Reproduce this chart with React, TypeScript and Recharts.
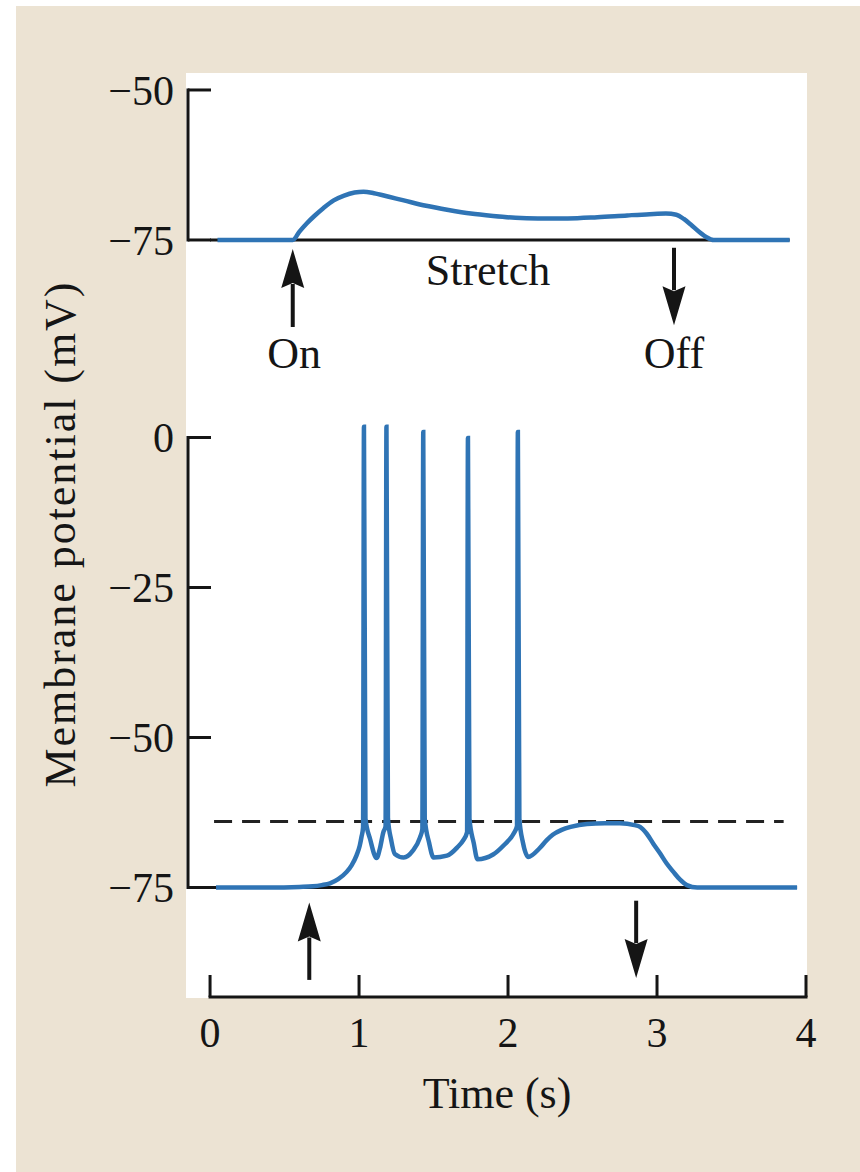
import {
  Line,
  LineChart,
  ReferenceArea,
  ReferenceDot,
  ReferenceLine,
  XAxis,
  YAxis,
} from "recharts";

const TIME_TICKS = [0, 1, 2, 3, 4];
const RECEPTOR_TICKS = [-50, -75];
const AFFERENT_TICKS = [0, -25, -50, -75];

// receptor potential in the stretched ending (upper trace)
const RECEPTOR_TIME = [
  0.05, 0.3, 0.555, 0.6, 0.65, 0.7, 0.76, 0.83, 0.9, 0.97, 1.03, 1.1, 1.2,
  1.3, 1.45, 1.6, 1.75, 1.9, 2.05, 2.2, 2.4, 2.6, 2.8, 2.95, 3.06, 3.13, 3.18,
  3.23, 3.28, 3.33, 3.38, 3.5, 3.89,
];
const RECEPTOR_MV = [
  -75, -75, -75, -73.6, -72.2, -71.0, -69.7, -68.4, -67.6, -67.1, -66.95,
  -67.2, -67.8, -68.4, -69.3, -70.0, -70.6, -71.0, -71.3, -71.4, -71.4, -71.2,
  -70.9, -70.7, -70.6, -70.8, -71.5, -72.5, -73.6, -74.5, -75, -75, -75,
];

// afferent fibre, action potentials (lower trace)
const AFFERENT_TIME = [
  0.04, 0.4, 0.6, 0.69, 0.75, 0.805, 0.86, 0.917, 0.95, 0.984, 1.005, 1.017,
  1.027, 1.033, 1.043, 1.075, 1.118, 1.14, 1.163, 1.178, 1.184, 1.194, 1.215,
  1.24, 1.3, 1.36, 1.41, 1.425, 1.431, 1.441, 1.47, 1.5, 1.59, 1.66, 1.7,
  1.725, 1.731, 1.741, 1.77, 1.795, 1.9, 1.97, 2.04, 2.06, 2.066, 2.076, 2.1,
  2.136, 2.21, 2.26, 2.3, 2.36, 2.42, 2.53, 2.65, 2.75, 2.85, 2.886, 2.93,
  2.975, 3.02, 3.065, 3.11, 3.155, 3.2, 3.27, 3.94,
];
const AFFERENT_MV = [
  -75, -75, -74.9, -74.8, -74.6, -74.3, -73.6, -72.4, -71.3, -69.6, -68.0,
  -66.5, -65.0, 1.8, -63.5, -67.0, -70.1, -68.5, -65.8, -64.8, 1.8, -63.5,
  -67.0, -69.4, -70.0, -68.9, -66.6, -65.3, 0.9, -63.5, -67.5, -70.0, -69.7,
  -68.3, -67.1, -65.8, -0.1, -63.5, -67.6, -70.3, -69.5, -68.0, -65.9, -64.8,
  0.9, -63.5, -67.5, -69.9, -68.5, -67.1, -66.2, -65.4, -64.9, -64.4, -64.3,
  -64.3, -64.6, -64.9, -66.0, -67.7, -69.3, -71.0, -72.4, -73.7, -74.6, -75,
  -75,
];

const REST_MV = -75;
const THRESHOLD_MV = -64;
const THRESHOLD_SPAN = [0.027, 3.85];

const RECEPTOR_ARROWS = [
  { t: 0.555, from: -89.5, to: -76.5 },
  { t: 3.114, from: -76.3, to: -89.2 },
];
const AFFERENT_ARROWS = [
  { t: 0.666, from: -90.4, to: -77.5 },
  { t: 2.86, from: -77.2, to: -90.1 },
];
const RECEPTOR_NOTES = [
  { t: 1.866, mv: -82.5, text: "Stretch" },
  { t: 0.564, mv: -96.3, text: "On" },
  { t: 3.114, mv: -96.3, text: "Off" },
];

const receptorData = RECEPTOR_TIME.map((t, i) => ({ t, mv: RECEPTOR_MV[i] }));
const afferentData = AFFERENT_TIME.map((t, i) => ({ t, mv: AFFERENT_MV[i] }));

const W = 860;
const H = 1172;
const MARGIN = { top: 73, right: 54, bottom: 175, left: 188 };
const T_DOMAIN: [number, number] = [-0.148, 4];
const RECEPTOR_DOMAIN: [number, number] = [-201.17, -47.17];
const AFFERENT_DOMAIN: [number, number] = [-93.25, 60.75];

const INK = "#151515";
const TRACE = "#2F74B5";
const BEIGE = "#ECE3D3";
const FONT = "'Liberation Serif', 'Times New Roman', serif";

const mvLabel = (v: number) => (v < 0 ? `\u2212${Math.abs(v)}` : `${v}`);

function YTick({ x1, x2, y1, text }: any) {
  const x = Math.min(x1, x2);
  return (
    <g>
      <line x1={x} x2={x + 23} y1={y1} y2={y1} stroke={INK} strokeWidth={3} />
      <text
        x={x - 14}
        y={y1}
        dy="0.35em"
        textAnchor="end"
        fontFamily={FONT}
        fontSize={42}
        fill={INK}
      >
        {text}
      </text>
    </g>
  );
}

function XTick({ x1, y1, y2, text }: any) {
  const yb = Math.max(y1, y2);
  return (
    <g>
      <line x1={x1} x2={x1} y1={yb} y2={yb - 22} stroke={INK} strokeWidth={3} />
      <text
        x={x1}
        y={yb + 50}
        textAnchor="middle"
        fontFamily={FONT}
        fontSize={42}
        fill={INK}
      >
        {text}
      </text>
    </g>
  );
}

function Spine({ x, y, height }: any) {
  return (
    <line
      x1={x}
      x2={x}
      y1={y - 1.5}
      y2={y + height + 1.5}
      stroke={INK}
      strokeWidth={3}
    />
  );
}

function BaseAxis({ x, y, width, height }: any) {
  return (
    <line
      x1={x - 1.5}
      x2={x + width + 1.5}
      y1={y + height}
      y2={y + height}
      stroke={INK}
      strokeWidth={3}
    />
  );
}

function Titles({ x, y, width, height }: any) {
  const cy = y + height / 2;
  return (
    <g fontFamily={FONT} fontSize={44} fill={INK}>
      <text x={x + width / 2} y={y + height + 111} textAnchor="middle">
        Time (s)
      </text>
      <text
        x={x - 113}
        y={cy}
        textAnchor="middle"
        transform={`rotate(-90 ${x - 113} ${cy})`}
        textLength={505}
        lengthAdjust="spacing"
      >
        Membrane potential (mV)
      </text>
    </g>
  );
}

function Arrow({ x1, y1, x2, y2 }: any) {
  const dir = y2 > y1 ? 1 : -1;
  const head = 39;
  const half = 11.5;
  const base = y2 - dir * head;
  return (
    <g>
      <line
        x1={x1}
        y1={y1}
        x2={x2}
        y2={base + dir * 4}
        stroke={INK}
        strokeWidth={4}
      />
      <path
        d={`M${x2} ${y2}L${x2 - half} ${base}L${x2} ${base + dir * 5}L${x2 + half} ${base}Z`}
        fill={INK}
      />
    </g>
  );
}

export default function App() {
  return (
    <div
      style={{
        position: "relative",
        width: W,
        height: H,
        background: "#fff",
        overflow: "hidden",
      }}
    >
      <style>{"body{margin:0}"}</style>
      <div
        style={{
          position: "absolute",
          left: 16,
          top: 6,
          right: 0,
          bottom: 0,
          background: BEIGE,
        }}
      />
      <div
        style={{
          position: "absolute",
          left: 186,
          top: 73,
          width: 621,
          height: 925,
          background: "#fff",
        }}
      />
      <div style={{ position: "absolute", left: 0, top: 0 }}>
        <LineChart width={W} height={H} margin={MARGIN}>
          <XAxis
            dataKey="t"
            type="number"
            domain={T_DOMAIN}
            allowDataOverflow
            hide
          />
          <YAxis
            yAxisId="top"
            type="number"
            domain={RECEPTOR_DOMAIN}
            allowDataOverflow
            hide
          />
          <YAxis
            yAxisId="bottom"
            type="number"
            domain={AFFERENT_DOMAIN}
            allowDataOverflow
            hide
          />

          <ReferenceArea
            x1={T_DOMAIN[0]}
            x2={T_DOMAIN[1]}
            yAxisId="bottom"
            ifOverflow="visible"
            shape={Titles}
          />
          <ReferenceArea
            yAxisId="top"
            y1={RECEPTOR_TICKS[RECEPTOR_TICKS.length - 1]}
            y2={RECEPTOR_TICKS[0]}
            ifOverflow="visible"
            shape={Spine}
          />
          <ReferenceArea
            yAxisId="bottom"
            y1={AFFERENT_TICKS[AFFERENT_TICKS.length - 1]}
            y2={AFFERENT_TICKS[0]}
            ifOverflow="visible"
            shape={Spine}
          />
          <ReferenceArea
            x1={TIME_TICKS[0]}
            x2={TIME_TICKS[TIME_TICKS.length - 1]}
            yAxisId="bottom"
            ifOverflow="visible"
            shape={BaseAxis}
          />

          {RECEPTOR_TICKS.map((v) => (
            <ReferenceLine
              key={`rt${v}`}
              yAxisId="top"
              y={v}
              ifOverflow="visible"
              shape={(p: any) => <YTick {...p} text={mvLabel(v)} />}
            />
          ))}
          {AFFERENT_TICKS.map((v) => (
            <ReferenceLine
              key={`at${v}`}
              yAxisId="bottom"
              y={v}
              ifOverflow="visible"
              shape={(p: any) => <YTick {...p} text={mvLabel(v)} />}
            />
          ))}
          {TIME_TICKS.map((t) => (
            <ReferenceLine
              key={`tt${t}`}
              yAxisId="bottom"
              x={t}
              ifOverflow="visible"
              shape={(p: any) => <XTick {...p} text={`${t}`} />}
            />
          ))}

          <ReferenceLine
            yAxisId="top"
            segment={[
              { x: 0, y: REST_MV },
              { x: RECEPTOR_TIME[RECEPTOR_TIME.length - 1], y: REST_MV },
            ]}
            stroke={INK}
            strokeWidth={3}
            ifOverflow="visible"
          />
          <ReferenceLine
            yAxisId="bottom"
            segment={[
              { x: 0, y: REST_MV },
              { x: AFFERENT_TIME[AFFERENT_TIME.length - 1], y: REST_MV },
            ]}
            stroke={INK}
            strokeWidth={3}
            ifOverflow="visible"
          />
          <ReferenceLine
            yAxisId="bottom"
            segment={[
              { x: THRESHOLD_SPAN[0], y: THRESHOLD_MV },
              { x: THRESHOLD_SPAN[1], y: THRESHOLD_MV },
            ]}
            stroke="#222"
            strokeWidth={3}
            strokeDasharray="18 10"
            ifOverflow="visible"
          />

          {RECEPTOR_ARROWS.map((a) => (
            <ReferenceLine
              key={`ra${a.t}`}
              yAxisId="top"
              segment={[
                { x: a.t, y: a.from },
                { x: a.t, y: a.to },
              ]}
              ifOverflow="visible"
              shape={Arrow}
            />
          ))}
          {AFFERENT_ARROWS.map((a) => (
            <ReferenceLine
              key={`aa${a.t}`}
              yAxisId="bottom"
              segment={[
                { x: a.t, y: a.from },
                { x: a.t, y: a.to },
              ]}
              ifOverflow="visible"
              shape={Arrow}
            />
          ))}
          {RECEPTOR_NOTES.map((n) => (
            <ReferenceDot
              key={n.text}
              yAxisId="top"
              x={n.t}
              y={n.mv}
              r={0}
              ifOverflow="visible"
              shape={(p: any) => (
                <text
                  x={p.cx}
                  y={p.cy}
                  textAnchor="middle"
                  fontFamily={FONT}
                  fontSize={44}
                  fill={INK}
                >
                  {n.text}
                </text>
              )}
            />
          ))}

          <Line
            data={receptorData}
            dataKey="mv"
            yAxisId="top"
            type="monotoneX"
            stroke={TRACE}
            strokeWidth={4.5}
            dot={false}
            activeDot={false}
            isAnimationActive={false}
          />
          <Line
            data={afferentData}
            dataKey="mv"
            yAxisId="bottom"
            type="monotoneX"
            stroke={TRACE}
            strokeWidth={4.5}
            dot={false}
            activeDot={false}
            isAnimationActive={false}
          />
        </LineChart>
      </div>
    </div>
  );
}
